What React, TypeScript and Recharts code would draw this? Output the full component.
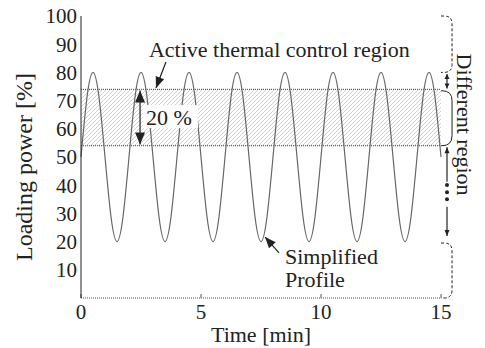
import { LineChart, Line, XAxis, YAxis, ReferenceArea, ReferenceLine, ReferenceDot } from 'recharts';

// time axis in minutes, quarter-minute samples
const minutes = [
  0, 0.25, 0.5, 0.75, 1, 1.25, 1.5, 1.75, 2, 2.25, 2.5, 2.75, 3, 3.25, 3.5, 3.75,
  4, 4.25, 4.5, 4.75, 5, 5.25, 5.5, 5.75, 6, 6.25, 6.5, 6.75, 7, 7.25, 7.5, 7.75,
  8, 8.25, 8.5, 8.75, 9, 9.25, 9.5, 9.75, 10, 10.25, 10.5, 10.75, 11, 11.25, 11.5, 11.75,
  12, 12.25, 12.5, 12.75, 13, 13.25, 13.5, 13.75, 14, 14.25, 14.5, 14.75, 15,
];
const loading = [
  50, 71.2, 80, 71.2, 50, 28.8, 20, 28.8, 50, 71.2, 80, 71.2, 50, 28.8, 20, 28.8,
  50, 71.2, 80, 71.2, 50, 28.8, 20, 28.8, 50, 71.2, 80, 71.2, 50, 28.8, 20, 28.8,
  50, 71.2, 80, 71.2, 50, 28.8, 20, 28.8, 50, 71.2, 80, 71.2, 50, 28.8, 20, 28.8,
  50, 71.2, 80, 71.2, 50, 28.8, 20, 28.8, 50, 71.2, 80, 71.2, 50,
];
const xTicks = [0, 5, 10, 15];
const yTicks = [10, 20, 30, 40, 50, 60, 70, 80, 90, 100];
const frameTicks = [10, 20, 30, 40, 50, 60, 70, 80, 90];
const controlBand = [54, 74];

const data = minutes.map((t, i) => ({ t, load: loading[i] }));

const FONT = '"Liberation Serif", "Times New Roman", serif';
const INK = '#222';

// line with filled arrow heads, coordinates come from the reference segment
const arrow = (head: number, wide: number, both: boolean) => (p: any) => {
  const { x1, y1, x2, y2 } = p;
  const len = Math.hypot(x2 - x1, y2 - y1) || 1;
  const ux = (x2 - x1) / len;
  const uy = (y2 - y1) / len;
  const tri = (tx: number, ty: number, dx: number, dy: number) => {
    const bx = tx - dx * head;
    const by = ty - dy * head;
    return `${tx},${ty} ${bx - dy * wide / 2},${by + dx * wide / 2} ${bx + dy * wide / 2},${by - dx * wide / 2}`;
  };
  return (
    <g>
      <line x1={x1} y1={y1} x2={x2} y2={y2} stroke={INK} strokeWidth={1.2} />
      <polygon points={tri(x2, y2, ux, uy)} fill={INK} />
      {both && <polygon points={tri(x1, y1, -ux, -uy)} fill={INK} />}
    </g>
  );
};

const brace = (dashed: boolean, r: number) => (p: any) => {
  const { x, y, width: w, height: h } = p;
  const d = `M${x},${y} L${x + w - r},${y} Q${x + w},${y} ${x + w},${y + r} L${x + w},${y + h - r} Q${x + w},${y + h} ${x + w - r},${y + h} L${x},${y + h}`;
  return <path d={d} fill="none" stroke={INK} strokeWidth={1} strokeDasharray={dashed ? '3 2' : undefined} />;
};

const textAt = (lines: string[], opts: { anchor?: string; rotate?: number; size?: number; lh?: number } = {}) => (p: any) => {
  const { cx, cy } = p;
  const size = opts.size ?? 22;
  return (
    <text
      x={cx}
      y={cy}
      transform={opts.rotate ? `rotate(${opts.rotate},${cx},${cy})` : undefined}
      textAnchor={opts.anchor ?? 'start'}
      fontFamily={FONT}
      fontSize={size}
      fill={INK}
    >
      {lines.map((l, i) => (
        <tspan key={i} x={cx} dy={i === 0 ? 0 : opts.lh ?? 23}>{l}</tspan>
      ))}
    </text>
  );
};

const bandLabel = (p: any) => {
  const { cx, cy } = p;
  return (
    <g>
      <rect x={cx} y={cy} width={55} height={23} fill="#fff" />
      <text x={cx + 3} y={cy + 20} fontFamily={FONT} fontSize={22} fill={INK}>20 %</text>
    </g>
  );
};

const dot = (p: any) => <circle cx={p.cx} cy={p.cy} r={2} fill={INK} />;

const App = () => {
  return (
    <div style={{ position: 'absolute', left: 0, top: 0, width: 485, height: 348, background: '#fff', fontFamily: FONT }}>
      <svg width={0} height={0} style={{ position: 'absolute' }}>
        <defs>
          <pattern id="hatch" patternUnits="userSpaceOnUse" width={4} height={4}>
            <path d="M-1,1 l2,-2 M0,4 l4,-4 M3,5 l2,-2" stroke="#c4c4c4" strokeWidth={0.8} />
          </pattern>
        </defs>
      </svg>
      <LineChart width={485} height={348} data={data} margin={{ top: 16, right: 44, bottom: 0, left: 0 }} style={{ fontFamily: FONT }}>
        <XAxis
          dataKey="t"
          type="number"
          domain={[0, 15]}
          ticks={xTicks}
          interval={0}
          height={50}
          tickSize={-4}
          tickMargin={10}
          axisLine={{ stroke: '#555', strokeDasharray: '1 1' }}
          tickLine={{ stroke: '#555' }}
          tick={{ fontSize: 21, fill: INK, fontFamily: FONT }}
          label={{ value: 'Time [min]', position: 'insideBottom', offset: 6, fontSize: 22, fill: INK, fontFamily: FONT }}
        />
        <XAxis
          xAxisId="top"
          orientation="top"
          type="number"
          domain={[0, 15]}
          ticks={[5, 10]}
          interval={0}
          height={0}
          tickSize={-4}
          tick={false}
          axisLine={{ stroke: '#555', strokeDasharray: '1 1' }}
          tickLine={{ stroke: '#555' }}
        />
        <YAxis
          type="number"
          domain={[0, 100]}
          ticks={yTicks}
          interval={0}
          width={81}
          tickSize={0}
          tickMargin={4}
          tickLine={false}
          axisLine={{ stroke: INK }}
          tick={{ fontSize: 21, fill: INK, fontFamily: FONT }}
          label={{
            content: ({ viewBox }: any) => (
              <text
                transform={`translate(${viewBox.x + 32},${viewBox.y + viewBox.height / 2 + 10}) rotate(-90)`}
                textAnchor="middle"
                fontFamily={FONT}
                fontSize={24}
                fill={INK}
              >
                Loading power [%]
              </text>
            ),
          }}
        />
        <YAxis
          yAxisId="frame"
          orientation="right"
          type="number"
          domain={[0, 100]}
          ticks={frameTicks}
          interval={0}
          width={0}
          tickSize={-4}
          tick={false}
          axisLine={{ stroke: '#444' }}
          tickLine={{ stroke: '#444' }}
        />

        <ReferenceArea y1={controlBand[0]} y2={controlBand[1]} fill="url(#hatch)" fillOpacity={1} stroke="none" />
        <ReferenceLine y={controlBand[1]} stroke="#444" strokeDasharray="1 1" />
        <ReferenceLine y={controlBand[0]} stroke="#444" strokeDasharray="1 1" />

        <Line
          type="natural"
          dataKey="load"
          stroke="#666"
          strokeWidth={1.2}
          dot={false}
          isAnimationActive={false}
        />

        <ReferenceDot x={2.83} y={85.5} r={0} shape={textAt(['Active thermal control region'])} />
        <ReferenceLine segment={[{ x: 3.54, y: 83.7 }, { x: 3.125, y: 74.5 }]} shape={arrow(11, 9, false)} />

        <ReferenceLine segment={[{ x: 2.46, y: 73.6 }, { x: 2.46, y: 54.4 }]} shape={arrow(12, 10, true)} />
        <ReferenceDot x={2.58} y={68.4} r={0} shape={bandLabel} />

        <ReferenceDot x={8.5} y={12} r={0} shape={textAt(['Simplified', 'Profile'])} />
        <ReferenceLine segment={[{ x: 8.25, y: 16 }, { x: 7.67, y: 21.6 }]} shape={arrow(11, 9, false)} />

        <ReferenceArea x1={15} x2={15.46} y1={80} y2={100} ifOverflow="visible" shape={brace(true, 8)} />
        <ReferenceLine segment={[{ x: 15.25, y: 79.4 }, { x: 15.25, y: 74.3 }]} ifOverflow="visible" shape={arrow(5, 5, true)} />
        <ReferenceArea x1={15} x2={15.46} y1={54} y2={73.5} ifOverflow="visible" shape={brace(false, 10)} />
        <ReferenceLine segment={[{ x: 15.25, y: 41.2 }, { x: 15.25, y: 53.5 }]} ifOverflow="visible" shape={arrow(6, 5, false)} />
        <ReferenceDot x={15.25} y={40.1} r={2} ifOverflow="visible" shape={dot} />
        <ReferenceDot x={15.25} y={37.5} r={2} ifOverflow="visible" shape={dot} />
        <ReferenceDot x={15.25} y={35} r={2} ifOverflow="visible" shape={dot} />
        <ReferenceLine segment={[{ x: 15.25, y: 32.4 }, { x: 15.25, y: 22 }]} ifOverflow="visible" shape={arrow(6, 5, false)} />
        <ReferenceArea x1={15} x2={15.46} y1={0} y2={19.5} ifOverflow="visible" shape={brace(true, 8)} />

        <ReferenceDot x={15.67} y={61.5} r={0} ifOverflow="visible" shape={textAt(['Different region'], { anchor: 'middle', rotate: 90 })} />
      </LineChart>
    </div>
  );
};

export default App;
